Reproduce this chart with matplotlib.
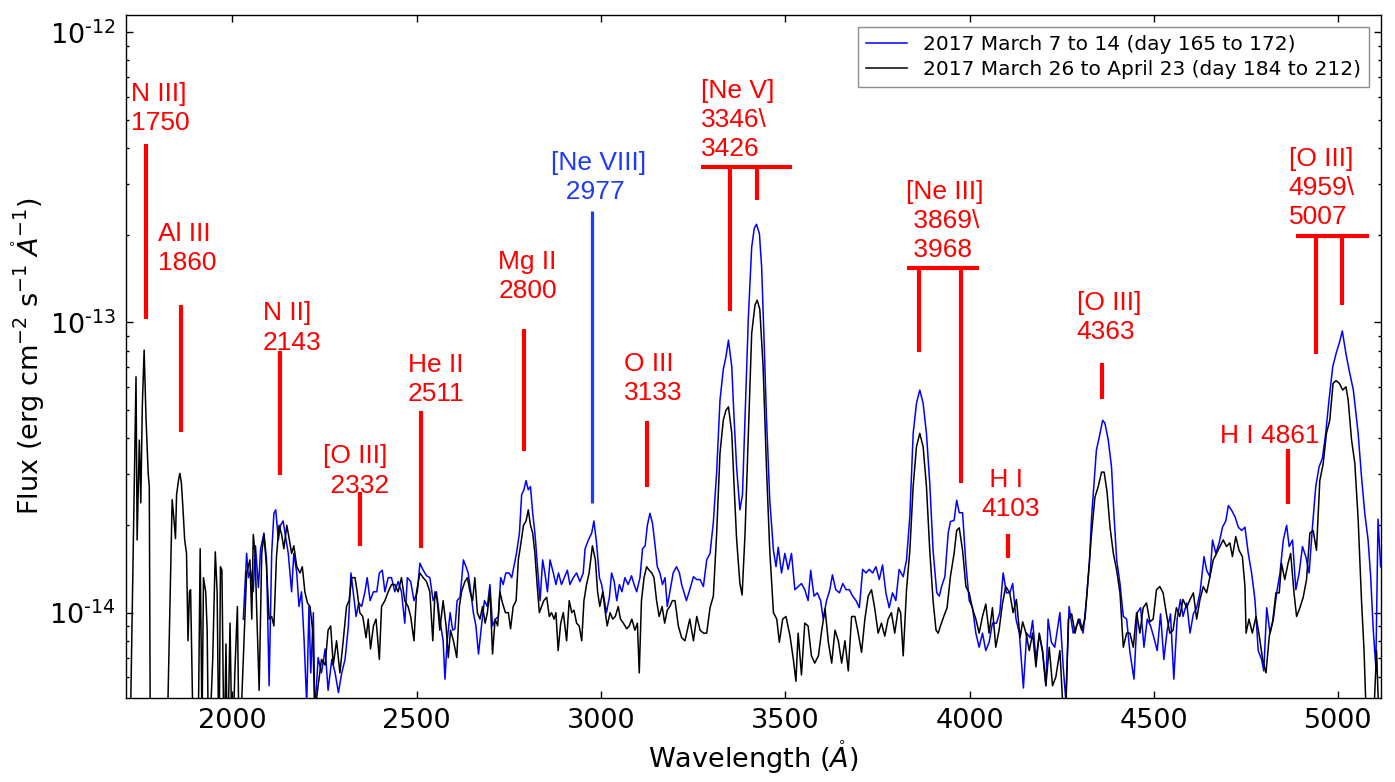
import numpy as np
import matplotlib
matplotlib.use("Agg")
import matplotlib.pyplot as plt
from matplotlib.ticker import FuncFormatter, NullFormatter, FixedLocator, LogLocator

# ---------------- data (flux in units of 1e-14 erg cm^-2 s^-1 A^-1) ----------------
FLUX_UNIT = 1e-14

wl_blue = [
    2030, 2039, 2044, 2050, 2057, 2063, 2071, 2077, 2086, 2093, 2100, 2107, 2113, 2118, 2125,
    2131, 2138, 2146, 2152, 2161, 2167, 2175, 2181, 2188, 2195, 2202, 2208, 2213, 2220, 2224,
    2233, 2242, 2252, 2260, 2270, 2279, 2288, 2297, 2306, 2315, 2322, 2328, 2336, 2343, 2351,
    2360, 2366, 2374, 2383, 2392, 2399, 2407, 2414, 2423, 2432, 2441, 2450, 2459, 2468, 2475,
    2484, 2493, 2502, 2509, 2518, 2527,
    2536, 2545, 2554, 2563, 2572, 2577, 2583, 2591, 2598, 2604, 2610, 2618, 2627, 2634, 2640,
    2647, 2654, 2661, 2668, 2676, 2684, 2692, 2699, 2706, 2714, 2722, 2728, 2735, 2742, 2751,
    2758, 2764, 2771, 2779, 2785, 2791, 2797, 2803, 2809, 2815, 2821, 2828, 2835, 2842, 2848,
    2855, 2862, 2871, 2878, 2885, 2893, 2903, 2909, 2916, 2925, 2934, 2943, 2952, 2957, 2966,
    2975, 2981, 2988, 2996, 3002, 3008, 3015, 3023, 3029, 3036, 3043, 3050, 3057, 3065, 3074,
    3083, 3090, 3097, 3106, 3113, 3120, 3126, 3133, 3140, 3147, 3153, 3160, 3167, 3174, 3180,
    3187, 3196, 3205, 3213, 3219, 3225, 3232,
    3241, 3251, 3260, 3269, 3278, 3287, 3296, 3305, 3314, 3323, 3332, 3339, 3346, 3355, 3361,
    3368, 3377, 3384, 3391, 3400, 3409, 3416, 3422, 3430, 3436, 3442, 3449, 3458, 3468, 3475,
    3481, 3490, 3499, 3508, 3517, 3526, 3535, 3544, 3553, 3562, 3569, 3578, 3587, 3596, 3603,
    3612, 3621, 3628, 3637, 3647, 3656, 3665, 3674, 3683, 3692, 3701, 3710, 3719, 3728, 3737,
    3746, 3755, 3764, 3773, 3782, 3791, 3800, 3809, 3820, 3829, 3838, 3847, 3856, 3865, 3874,
    3883, 3892, 3901, 3911, 3918, 3924, 3933, 3942, 3948, 3958, 3965, 3972, 3981, 3990, 3999,
    4008, 4017, 4026, 4035, 4044, 4053, 4062, 4073, 4082, 4091, 4100,
    4109, 4117, 4126, 4135, 4146, 4155, 4164, 4171, 4180, 4189, 4198, 4207, 4213, 4222, 4231,
    4245, 4254, 4261, 4270, 4281, 4290, 4299, 4308, 4317, 4325, 4331, 4337, 4344, 4352, 4361,
    4367, 4376, 4385, 4392, 4399, 4408, 4417, 4426, 4435, 4446, 4455, 4464, 4473, 4482, 4491,
    4500, 4509, 4518, 4527, 4536, 4545, 4554, 4563, 4572, 4579, 4589, 4598, 4607, 4616, 4625,
    4636, 4643, 4652, 4659, 4668, 4677, 4686, 4695, 4702, 4711, 4720, 4729, 4738, 4747, 4756,
    4765, 4774, 4783, 4792, 4798, 4806, 4815, 4824, 4833, 4842, 4851, 4860, 4867, 4876, 4885,
    4894, 4903, 4912, 4921, 4930, 4939, 4948, 4957, 4966, 4975, 4985, 4994, 5004, 5011, 5021,
    5030, 5041, 5054, 5063, 5072, 5081, 5088, 5095, 5102, 5108, 5115,
]
flux_blue = [
    0.95, 1.60, 1.32, 1.40, 1.18, 1.70, 1.22, 1.66, 1.88, 1.52, 0.56, 1.60, 2.20, 2.26, 1.78,
    2.00, 2.07, 1.78, 1.60, 1.18, 1.60, 1.37, 1.05, 1.18, 0.80, 0.48, 1.05, 0.62, 1.00, 0.45,
    0.70, 0.62, 0.75, 0.54, 0.69, 0.62, 0.53, 0.62, 0.69, 0.90, 1.37, 1.18, 0.97, 1.08, 1.05,
    1.18, 1.32, 1.10, 1.18, 1.18, 1.37, 1.40, 1.18, 1.32, 1.32, 1.18, 1.28, 1.18, 0.92, 1.32,
    1.28, 1.10, 1.18, 1.48, 1.40, 1.34,
    1.32, 1.10, 1.18, 0.95, 0.80, 0.59, 0.80, 1.00, 0.87, 0.88, 1.10, 1.13, 1.52, 1.44, 1.37,
    1.18, 1.00, 0.90, 0.72, 0.90, 1.10, 1.05, 1.25, 0.90, 0.95, 0.97, 1.32, 1.25, 1.37, 1.37,
    1.32, 1.44, 1.60, 1.88, 2.55, 2.65, 2.85, 2.65, 2.72, 2.20, 1.88, 1.44, 1.10, 1.52, 1.37,
    1.18, 1.52, 1.37, 1.25, 1.37, 1.25, 1.34, 1.40, 1.25, 1.32, 1.37, 1.28, 1.37, 1.66, 1.78,
    1.88, 2.07, 1.75, 1.32, 1.25, 1.13, 1.00, 1.13, 1.37, 1.28, 1.10, 1.25, 1.18, 1.32, 1.25,
    1.34, 1.25, 1.18, 1.32, 1.66, 1.70, 2.00, 2.20, 2.03, 1.70, 1.44, 1.37, 1.25, 1.32, 1.05,
    1.18, 1.37, 1.44, 1.37, 1.25, 1.18, 1.10,
    1.20, 1.33, 1.30, 1.30, 1.23, 1.52, 1.60, 2.05, 3.05, 5.40, 6.90, 7.60, 8.69, 7.03, 4.73,
    3.18, 2.26, 2.55, 4.73, 10.45, 18.2, 21.1, 21.8, 20.2, 15.5, 9.17, 4.73, 2.44, 1.64, 1.44,
    1.68, 1.37, 1.60, 1.41, 1.60, 1.20, 1.23, 1.26, 1.20, 1.10, 1.40, 1.14, 1.17, 1.10, 0.95,
    1.10, 1.20, 1.35, 1.20, 1.17, 1.26, 1.20, 1.20, 1.14, 1.10, 1.04, 1.41, 1.37, 1.41, 1.37,
    1.44, 1.30, 1.46, 1.17, 1.04, 1.17, 1.10, 1.41, 1.33, 1.52, 2.15, 4.15, 5.27, 5.85, 5.27,
    4.15, 2.79, 1.64, 1.17, 1.14, 1.23, 1.33, 1.88, 2.06, 2.08, 2.44, 2.21, 2.21, 1.47, 1.10,
    1.04, 0.85, 0.76, 0.85, 0.74, 0.79, 0.92, 0.92, 1.00, 1.37, 1.17,
    1.17, 1.26, 0.95, 0.85, 0.55, 0.85, 0.82, 0.94, 0.69, 0.84, 0.73, 0.56, 0.95, 0.79, 0.76,
    1.00, 0.65, 0.50, 1.05, 0.85, 0.90, 0.95, 0.85, 1.11, 1.48, 2.14, 2.72, 3.63, 4.04, 4.60,
    4.50, 3.95, 3.18, 2.14, 1.52, 1.26, 0.97, 0.95, 0.73, 0.59, 1.00, 1.04, 0.76, 0.95, 0.90,
    0.82, 0.74, 0.99, 0.69, 0.87, 0.99, 0.59, 0.95, 1.11, 0.97, 1.08, 0.85, 0.99, 1.04, 1.17,
    1.56, 1.40, 1.33, 1.78, 1.60, 1.74, 1.97, 2.07, 2.34, 2.25, 2.14, 1.97, 1.92, 1.97, 1.60,
    1.37, 1.11, 0.74, 0.69, 0.63, 1.04, 0.85, 0.95, 1.17, 1.37, 1.78, 2.00, 1.69, 1.78, 1.20,
    1.37, 1.69, 1.56, 1.37, 1.97, 2.72, 3.18, 3.40, 4.15, 5.40, 7.03, 7.80, 8.60, 9.35, 7.80,
    6.80, 5.85, 4.15, 2.95, 2.20, 1.78, 1.33, 0.87, 0.65, 2.10, 1.44,
]

wl_black = [
    1722, 1739, 1742, 1748, 1752, 1756, 1761, 1766, 1772, 1775, 1778, 1800, 1822, 1831, 1837,
    1842, 1846, 1849, 1855, 1858, 1862, 1866, 1871, 1876, 1880, 1884, 1887, 1892, 1896, 1905,
    1909, 1913, 1918, 1922, 1928, 1932, 1936, 1947, 1954, 1959, 1964, 1968, 1972, 1978, 1983,
    1987, 1994, 2000, 2007, 2014, 2019, 2032, 2039, 2048, 2053, 2057, 2062, 2066, 2073, 2080,
    2086, 2093, 2100, 2107, 2113, 2120, 2127, 2134, 2140, 2148, 2155, 2161, 2167, 2175, 2184,
    2190, 2197, 2204, 2211, 2218, 2224, 2233, 2242, 2252, 2260, 2267, 2274, 2283, 2292, 2301,
    2310, 2317, 2324, 2333, 2339, 2346, 2354, 2363, 2369, 2375, 2383, 2390, 2399, 2405, 2414,
    2423, 2432, 2441, 2450, 2459, 2468, 2477, 2484, 2493, 2500, 2509, 2518, 2527,
    2536, 2544, 2550, 2556, 2563, 2572, 2580, 2586, 2592, 2600, 2609, 2616, 2622, 2631, 2638,
    2645, 2652, 2658, 2665, 2672, 2679, 2686, 2692, 2699, 2706, 2713, 2720, 2726, 2733, 2741,
    2749, 2755, 2762, 2770, 2776, 2782, 2790, 2797, 2803, 2809, 2815, 2821, 2827, 2833, 2839,
    2845, 2853, 2860, 2866, 2873, 2878, 2884, 2891, 2898, 2907, 2914, 2921, 2927, 2934, 2941,
    2948, 2954, 2961, 2968, 2977, 2985, 2991, 2997, 3005, 3012, 3017, 3025, 3032, 3039, 3047,
    3053, 3061, 3070, 3077, 3084, 3092, 3099, 3104, 3110, 3117, 3124, 3131, 3138, 3144, 3151,
    3158, 3166, 3173, 3180, 3187, 3194, 3201, 3210, 3219, 3228,
    3241, 3251, 3260, 3269, 3278, 3287, 3296, 3305, 3314, 3323, 3332, 3339, 3346, 3355, 3361,
    3368, 3377, 3383, 3391, 3400, 3409, 3418, 3424, 3431, 3440, 3449, 3458, 3468, 3477, 3484,
    3493, 3502, 3513, 3522, 3529, 3535, 3544, 3553, 3562, 3571, 3580, 3590, 3599, 3608, 3617,
    3626, 3635, 3644, 3653, 3662, 3671, 3680, 3689, 3698, 3707, 3716, 3725, 3734, 3743, 3752,
    3761, 3770, 3779, 3788, 3797, 3807, 3813, 3820, 3829, 3838, 3847, 3856, 3865, 3874, 3883,
    3892, 3901, 3909, 3915, 3921, 3930, 3939, 3948, 3958, 3965, 3972, 3981, 3990, 3999, 4008,
    4017, 4026, 4035, 4044, 4053, 4062, 4071, 4080, 4089, 4098,
    4109, 4118, 4127, 4137, 4144, 4153, 4162, 4171, 4180, 4189, 4198, 4207, 4216, 4225, 4234,
    4245, 4254, 4261, 4268, 4277, 4286, 4295, 4304, 4313, 4322, 4331, 4340, 4349, 4358, 4365,
    4373, 4381, 4390, 4399, 4408, 4417, 4426, 4435, 4444, 4453, 4462, 4471, 4480, 4489, 4498,
    4507, 4516, 4525, 4534, 4543, 4552, 4561, 4570, 4579, 4589, 4598, 4607, 4616, 4625, 4634,
    4643, 4652, 4661, 4670, 4679, 4688, 4697, 4706, 4713, 4722, 4731, 4740, 4747, 4750, 4758,
    4767, 4777, 4786, 4795, 4804, 4813, 4822, 4831, 4840, 4846, 4855, 4864, 4871, 4880, 4887,
    4896, 4905, 4914, 4923, 4932, 4941, 4950, 4959, 4968, 4977, 4986, 4994, 5003, 5012, 5021,
    5027, 5036, 5045, 5054, 5063, 5070, 5077, 5095, 5104, 5111,
]
flux_black = [
    0.30, 6.50, 1.78, 3.93, 2.39, 5.12, 8.03, 4.73, 3.02, 2.72, 0.30, 0.30, 0.30, 1.08, 2.45,
    2.09, 1.80, 2.55, 2.90, 3.02, 2.80, 2.32, 1.78, 1.60, 0.80, 1.18, 1.20, 0.52, 0.30, 0.30,
    0.54, 1.66, 0.40, 1.32, 1.18, 0.87, 0.30, 0.69, 1.62, 1.18, 0.30, 1.44, 1.40, 0.30, 0.78,
    0.30, 0.92, 0.30, 0.62, 1.05, 0.30, 0.80, 1.37, 1.52, 0.95, 1.86, 1.60, 1.05, 0.54, 1.60,
    1.86, 1.44, 0.95, 0.97, 0.90, 1.56, 2.00, 1.86, 1.66, 2.00, 1.78, 1.60, 1.70, 1.44, 1.37,
    1.44, 1.18, 1.08, 1.05, 0.87, 0.45, 0.56, 0.69, 0.66, 0.87, 0.90, 0.66, 0.80, 0.62, 0.80,
    1.05, 1.10, 1.32, 1.32, 1.18, 1.00, 0.97, 0.82, 0.95, 0.75, 0.90, 0.95, 0.69, 1.05, 1.10,
    1.18, 1.25, 1.25, 1.18, 1.32, 1.10, 1.05, 0.97, 0.80, 1.18, 1.37, 1.32, 1.28,
    1.18, 0.80, 1.18, 1.10, 0.87, 1.10, 0.90, 0.70, 0.87, 0.80, 0.70, 1.05, 1.18, 1.28, 1.32,
    1.18, 1.10, 1.32, 1.00, 0.95, 1.05, 0.92, 1.00, 1.20, 0.72, 0.95, 0.90, 1.18, 1.08, 1.00,
    1.00, 0.88, 1.05, 1.10, 1.52, 1.70, 2.00, 2.07, 2.26, 2.00, 1.88, 1.60, 1.25, 1.00, 1.05,
    1.10, 1.13, 0.97, 1.00, 0.95, 1.00, 0.74, 0.92, 1.00, 0.80, 1.10, 1.00, 1.02, 0.92, 0.90,
    0.80, 1.10, 1.25, 1.37, 1.70, 1.52, 1.18, 1.05, 1.18, 1.00, 0.90, 1.00, 0.95, 0.97, 1.05,
    0.95, 0.92, 0.88, 0.90, 0.95, 0.87, 0.92, 0.62, 1.10, 1.32, 1.44, 1.40, 1.37, 1.32, 1.10,
    0.97, 1.05, 0.92, 1.02, 1.05, 1.10, 1.10, 0.90, 0.82, 0.80,
    0.95, 0.80, 0.97, 0.87, 0.85, 0.85, 1.04, 1.14, 1.88, 3.54, 4.61, 4.97, 5.12, 4.15, 2.79,
    1.80, 1.26, 1.15, 1.88, 4.15, 9.17, 11.5, 11.93, 11.1, 7.03, 3.18, 1.64, 1.00, 0.95, 0.79,
    0.95, 0.97, 0.83, 0.69, 0.58, 0.85, 0.61, 0.92, 0.90, 0.71, 0.67, 0.71, 0.87, 1.03, 0.79,
    0.67, 0.87, 0.80, 0.67, 0.80, 0.63, 0.97, 0.97, 0.85, 0.73, 0.95, 1.14, 1.20, 1.03, 0.85,
    0.92, 0.83, 0.95, 1.00, 0.85, 1.04, 1.00, 0.71, 1.20, 1.64, 2.73, 3.73, 4.15, 3.73, 2.73,
    1.64, 1.10, 0.87, 0.85, 0.90, 0.97, 1.04, 1.33, 1.60, 1.92, 1.96, 1.64, 1.23, 1.17, 1.03,
    0.95, 0.85, 0.97, 1.07, 0.85, 1.04, 0.76, 0.87, 1.07, 1.23,
    1.17, 1.00, 1.11, 0.82, 0.93, 0.85, 0.74, 0.85, 0.65, 0.85, 0.74, 0.56, 0.76, 0.56, 0.60,
    0.74, 0.45, 0.45, 0.95, 0.99, 0.85, 0.95, 0.87, 0.95, 1.33, 1.88, 2.50, 2.72, 3.05, 3.05,
    2.60, 1.97, 1.60, 1.40, 1.17, 0.76, 0.85, 0.85, 0.76, 1.00, 0.85, 1.04, 1.08, 0.93, 0.95,
    1.20, 1.23, 1.17, 0.99, 0.85, 0.87, 1.04, 0.97, 1.11, 1.04, 1.11, 1.17, 0.95, 1.11, 1.23,
    1.17, 1.33, 1.52, 1.60, 1.69, 1.78, 1.69, 1.74, 1.56, 1.83, 1.64, 1.56, 1.23, 0.85, 0.95,
    0.85, 0.97, 0.83, 0.69, 0.62, 0.83, 0.93, 1.17, 1.17, 1.48, 1.30, 1.48, 1.60, 1.17, 0.97,
    1.04, 1.13, 1.30, 1.88, 1.92, 1.64, 2.85, 3.25, 4.15, 4.60, 6.17, 6.30, 6.17, 5.85, 6.00,
    5.40, 3.95, 3.27, 2.10, 1.11, 0.74, 0.40, 0.40, 0.74, 0.40,
]

series_labels = ["2017 March 7 to 14 (day 165 to 172)",
                 "2017 March 26 to April 23 (day 184 to 212)"]
x_ticks = [2000, 2500, 3000, 3500, 4000, 4500, 5000]
y_ticks = [1e-14, 1e-13, 1e-12]

# line identifications: (label, text x, text top, line x, line top, line bottom, colour)
single_ids = [
    ("N III]\n1750", 1724.6, 67.5, 1765.2, 41.1, 10.24, "red"),
    ("Al III\n1860", 1799.4, 22.18, 1861.8, 11.53, 4.18, "red"),
    ("N II]\n2143", 2082.6, 11.83, 2129.5, 7.95, 2.99, "red"),
    ("[O III]\n 2332", 2247.0, 3.80, 2346.5, 2.61, 1.70, "red"),
    ("He II\n2511", 2475.8, 7.85, 2512.0, 4.95, 1.675, "red"),
    ("Mg II\n2800", 2721.6, 17.82, 2792.0, 9.48, 3.61, "red"),
    ("[Ne VIII]\n  2977", 2864.5, 39.1, 2975.7, 24.2, 2.39, "#1f3cf5"),
    ("O III\n3133", 3063.3, 7.90, 3124.0, 4.57, 2.72, "red"),
    (" H I\n4103", 4032.7, 3.15, 4103.2, 1.862, 1.543, "red"),
    ("[O III]\n4363", 4290.3, 12.88, 4358.0, 7.26, 5.43, "red"),
    ("H I 4861", 4679.0, 4.47, 4862.6, 3.66, 2.36, "red"),
]
# doublets: (label, text x, text top, bar x0, bar x1, bar y, [(line x, line bottom), ...])
doublet_ids = [
    ("[Ne V]\n3346\\\n3426", 3271.3, 69.3, 3271.3, 3517.3, 34.3,
     [(3350.0, 10.96), (3422.4, 26.5)]),
    ("[Ne III]\n 3869\\\n 3968", 3827.3, 31.05, 3831.0, 4026.2, 15.35,
     [(3862.6, 7.88), (3975.7, 2.79)]),
    ("[O III]\n4959\\\n5007", 4865.9, 40.4, 4884.6, 5083.2, 19.87,
     [(4939.4, 7.76), (5009.0, 11.47)]),
]

# ---------------- figure ----------------
plt.rcParams["font.family"] = ["DejaVu Sans"]
plt.rcParams["mathtext.fontset"] = "dejavusans"

W, H = 1395, 782
fig = plt.figure(figsize=(W / 100, H / 100), dpi=100)
ax = fig.add_axes([125.7 / W, (H - 698) / H, (1381 - 125.7) / W, (698 - 15) / H])

ax.plot(wl_blue, np.array(flux_blue) * FLUX_UNIT, color="#0000ff", lw=1.1,
        label=series_labels[0])
ax.plot(wl_black, np.array(flux_black) * FLUX_UNIT, color="black", lw=1.1,
        label=series_labels[1])

ann_font = dict(family=["Liberation Sans", "DejaVu Sans"], fontsize=19,
                va="top", ha="left", linespacing=1.28)

for text, tx, ty, lx, ytop, ybot, col in single_ids:
    lw = 2.3 if col != "red" else 3.0
    ax.plot([lx, lx], [ytop * FLUX_UNIT, ybot * FLUX_UNIT], color=col, lw=lw,
            solid_capstyle="butt")
    ax.text(tx, ty * FLUX_UNIT, text, color=col, **ann_font)

for text, tx, ty, bx0, bx1, by, lines in doublet_ids:
    ax.plot([bx0, bx1], [by * FLUX_UNIT, by * FLUX_UNIT], color="red", lw=3.0,
            solid_capstyle="butt")
    for lx, ybot in lines:
        ax.plot([lx, lx], [by * FLUX_UNIT, ybot * FLUX_UNIT], color="red", lw=3.0,
                solid_capstyle="butt")
    ax.text(tx, ty * FLUX_UNIT, text, color="red", **ann_font)

ax.set_yscale("log")
ax.set_xlim(1711, 5116)
ax.set_ylim(5.08e-15, 1.147e-12)
ax.set_xticks(x_ticks)
ax.yaxis.set_major_locator(FixedLocator(y_ticks))
ax.yaxis.set_minor_locator(LogLocator(base=10, subs=np.arange(2, 10), numticks=20))


def log_label(v, pos):
    e = int(round(np.log10(v)))
    sign = "\u2010" if e < 0 else ""
    return r"$\mathdefault{10^{%s%d}}$" % (sign, abs(e))


ax.yaxis.set_major_formatter(FuncFormatter(log_label))
ax.yaxis.set_minor_formatter(NullFormatter())

ax.tick_params(which="both", direction="in", top=True, right=True, labelsize=19.5)
ax.tick_params(which="major", length=5, width=1, pad=7)
ax.tick_params(which="minor", length=2.5, width=1)
for sp in ax.spines.values():
    sp.set_linewidth(1.0)

ax.set_xlabel(r"Wavelength ($\mathring{A}$)", fontsize=19.5, labelpad=3.5)
ax.set_ylabel(r"Flux (erg cm$^{-2}$ s$^{-1}$ $\mathring{A}^{-1}$)", fontsize=19.5,
              labelpad=1.5)

leg = ax.legend(loc="upper right", fontsize=14.5, fancybox=False, framealpha=1,
                edgecolor="0.55", labelspacing=0.3, borderaxespad=0.6,
                handlelength=2.0)
leg.get_frame().set_linewidth(1.0)

fig.savefig("out.png", dpi=100)
